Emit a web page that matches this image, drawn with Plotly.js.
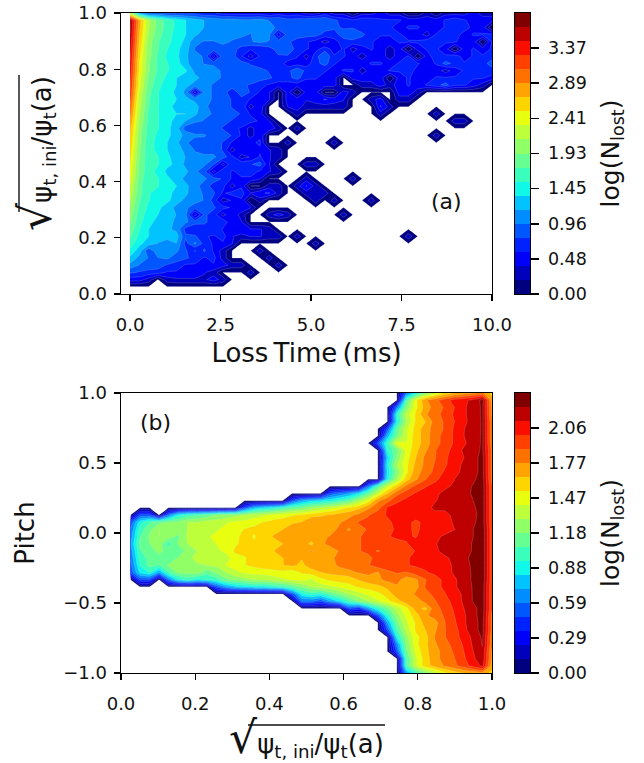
<!DOCTYPE html>
<html><head><meta charset="utf-8">
<script src="https://cdn.plot.ly/plotly-3.0.1.min.js"></script>
<style>html,body{margin:0;padding:0;background:#fff}</style></head>
<body><div id="chart" style="width:644px;height:763px"></div>
<script>
// ---- Panel (a): log(N_lost) on Loss Time (columns, 40) vs sqrt(psi) (rows i=39 at top down to i=1)
const zATop = [
[2.2,1.1,.8,.8,.7,.7,.7,.7,.6,.6,.5,.48,.48,.48,.48,.4,.48,.4,.48,.3,.3,.48,.3,.3,0,.3,.3,.48,.3,.3,0,0,.3,0,.3,.3,.3,.48,.3,.3],
[3.75,2.8,2.15,1.85,1.65,1.5,1.35,1.25,1.15,1.1,1.05,1.05,1.0,1.0,1.05,.95,.95,.85,.85,.9,.95,.95,.8,.7,.6,.7,.7,.6,.6,.6,.5,.5,.48,.48,.6,.7,.6,.5,.48,.48],
[3.7,2.75,2.15,1.85,1.65,1.5,1.35,1.25,1.15,1.05,1.05,1.05,1.0,1.0,1.05,1.05,.9,.85,.85,.85,.9,.85,.8,.75,.75,.7,.7,.7,.6,.5,.6,.6,.48,.48,.6,.7,.7,.5,.48,0],
[3.65,2.7,2.1,1.8,1.65,1.45,1.35,1.2,1.05,1.05,1.05,1.0,1.0,.95,1.15,1.0,.48,.85,.85,.85,.85,.7,.7,.85,.95,.8,.7,.6,.6,.6,.5,.48,.3,.6,.6,.7,.48,.6,.6,.6],
[3.6,2.65,2.05,1.75,1.6,1.45,1.3,1.0,.95,.95,1.0,.95,.9,.95,1.0,.95,.85,.8,.7,.6,.5,.3,.48,.7,.7,.7,.6,.48,.48,.6,.6,.6,.7,.7,.6,.6,.48,.48,0,.6],
[3.55,2.6,2.0,1.75,1.55,1.4,1.25,.95,.9,.9,.9,.85,.7,.6,.6,.7,.85,.9,.7,.6,.5,.7,.48,.6,.3,.48,.6,.48,.3,.48,0,.48,.6,.6,.48,0,.48,.6,.48,.6],
[3.5,2.55,2.0,1.7,1.5,1.4,1.2,1.0,.95,.3,.9,.85,.6,.3,.6,.7,.75,.75,.6,.3,.7,.95,.6,.6,.48,.3,.48,.48,.3,.48,.6,0,.48,.7,.6,.7,.48,.6,.6,.7],
[3.45,2.5,1.95,1.7,1.55,1.45,1.2,1.05,.95,.9,.9,.85,.85,.75,.65,.65,.7,.48,.48,.48,.7,.85,.6,.48,.48,.48,.6,.6,.48,.6,.6,.6,.48,.6,.85,.7,.6,.7,.7,.85],
[3.4,2.5,1.95,1.7,1.55,1.5,1.38,1.1,1.05,1.1,.9,.9,.95,.85,.85,.75,.7,.7,.95,.7,.7,.6,.48,.6,.6,.3,.48,.48,.6,.6,.7,.48,.48,.48,.3,.48,.6,.7,.6,.7],
[3.35,2.4,1.9,1.65,1.5,1.35,1.25,1.2,1.1,1.0,.95,.9,.9,.9,.85,.8,.7,.7,.85,.6,.6,.48,.48,0,.48,.48,.48,.48,0,.48,.6,.48,.48,.6,.6,.6,.6,.6,.6,.5],
[3.3,2.4,1.85,1.6,1.45,1.35,1.2,1.1,1.0,.95,.9,.9,.8,.75,.65,.55,.48,.48,.48,.48,.48,.48,.48,0,0,.3,.3,.48,.3,.48,.6,.48,.6,.7,.85,.6,.6,.48,.3,0],
[3.25,2.3,1.8,1.55,1.45,1.3,1.1,.3,1.0,.95,.9,.6,.9,.75,.55,.4,0,.48,0,.48,.48,0,0,.48,.3,0,0,0,0,.48,.48,.3],
[3.15,2.25,1.75,1.55,1.45,1.35,1.2,1.1,1.0,.95,.9,.75,.7,.55,.55,.4,0,.48,.48,.4,.48,.6,.48,.4,0,0,.3,.48,0,.3,.3],
[3.05,2.2,1.75,1.55,1.4,1.3,1.15,1.25,1.0,.9,.9,.75,.75,.3,.55,0,0,.4,.48,.3,.3,.3,.3,.3,0,0,0,.6,.3],
[2.95,2.15,1.7,1.55,1.4,1.35,1.35,1.2,1.0,.95,.9,.85,.75,.55,.48,0,0,0,.3,0,0,0,0,0,0,0,0,.3,0,0,0,0,0,.3],
[2.85,2.1,1.7,1.55,1.4,1.3,1.15,1.0,.95,.95,.85,.75,.75,.65,.55,.4,0,0,0,0,0,0,0,0,0,0,0,0,0,0,0,0,0,0,0,.3,.3],
[2.75,2.05,1.65,1.55,1.4,1.25,.85,.8,.8,.85,.75,.65,.55,.3,.55,.55,.3,0,.3],
[2.7,2.0,1.65,1.5,1.4,1.25,1.1,1.0,1.0,.8,.9,.75,.55,.3,.55,0,0,0,0,0,0,0,0,0,0,0,0,0,0,0,0,0,0,.3],
[2.65,2.0,1.6,1.5,1.35,1.2,1.0,.85,.8,.9,.75,.55,.55,.55,.6,0,0,.3,0,0,0,0,.3],
[2.6,1.95,1.6,1.5,1.35,1.25,1.1,.95,.9,.9,.75,.3,.55,.4,.55,.4,.3],
[2.55,1.95,1.6,1.55,1.4,1.25,1.15,1.0,1.0,1.0,.85,.65,.3,.4,.6,.4,.3],
[2.5,1.9,1.6,1.55,1.4,1.3,1.1,1.0,1.0,.8,.3,.75,.75,.75,.85,.4,0,0,0,.3,.3],
[2.45,1.9,1.6,1.5,1.3,1.25,1.2,1.0,.85,.3,.75,.55,.65,.65,.55,.4,.3],
[2.4,1.85,1.55,1.55,1.4,1.25,1.1,1.0,1.0,.85,.75,.55,.55,.55,.4,0,0,0,0,.3,0,0,0,0,.3],
[2.3,1.8,1.55,1.55,1.45,1.35,1.2,1.05,.85,.7,.65,.3,.55,0,0,.3,.3,0,.3,.6,.3],
[2.25,1.8,1.55,1.5,1.4,1.3,1.2,1.0,.95,.8,.55,.65,.65,.4,.55,.6,.3,0,0,.3,.3,.3],
[2.15,1.75,1.55,1.45,1.4,1.25,1.1,1.05,.95,.7,.3,.4,.55,0,.3,0,0,0,0,0,.3,0,.3,0,0,0,.3],
[2.1,1.7,1.5,1.4,1.25,1.1,1.0,.85,.8,.8,.65,.55,.55,.4],
[2.0,1.65,1.45,1.35,1.25,1.15,1.0,.3,.8,.7,.3,.55,.3,0,0,.3,.48,.3,0,0,0,0,0,.3],
[1.95,1.6,1.4,1.3,1.25,1.1,1.0,.85,.8,.7,.75,.4,.4],
[1.85,1.55,1.35,1.2,1.2,1.1,.7,.6,.7,.75,.55,.55,.55,.4,.4,.3],
[1.75,1.5,1.35,1.2,1.2,1.25,.8,.8,.6,.55,.65,.4,.3,.4,.4,.3,.3,0,.3,0,0,0,0,0,0,0,0,0,0,0,.3],
[1.65,1.4,1.25,1.15,1.1,1.15,.7,1.0,.7,.55,.55,.4,0,0,0,0,0,0,0,0,.3],
[1.5,1.25,.8,1.1,1.0,1.0,.8,.55,.8,.55,.3,0,0,0,.3],
[1.3,1.1,.95,.95,1.0,.85,.8,.7,.55,.65,.3,0,0,0,0,.3],
[1.1,.95,.9,.85,.75,.7,.55,.55,.55,.55,.48,.3,.3,0,0,0,.3],
[.8,.75,.7,.7,.55,.55,.55,.55,.4,.3,0,0,0,.3],
[.48,.48,.3,0,.3,.35,.35,.35,.35,.48,.3],
[0]
];
const ticksA = [0,0.48,0.96,1.45,1.93,2.41,2.89,3.37];
const ticksATxt = ['0.00','0.48','0.96','1.45','1.93','2.41','2.89','3.37'];
const maxA = 3.85;

// ---- Panel (b): log(N_lost) on sqrt(psi) vs Pitch. tail(first column, values); rows run from pitch -1 up to +1
const tail = (j, v) => Array(j - 1).fill(0).concat(v);
const zB = [
tail(30,[.7,1.0,1.2,1.35,1.5,1.6,1.65,1.7,1.75,1.6]),
tail(30,[1.05,1.4,1.6,1.7,1.78,1.85,1.95,2.05,2.15,1.7]),
tail(30,[1.05,1.4,1.6,1.72,1.82,1.88,1.98,2.1,2.2,1.75]),
tail(29,[.5,1.15,1.45,1.62,1.72,1.82,1.9,2.0,2.12,2.22,1.75]),
tail(29,[.65,1.2,1.5,1.62,1.75,1.85,1.92,2.02,2.14,2.25,1.8]),
tail(29,[.9,1.25,1.5,1.6,1.78,1.88,1.95,2.05,2.15,2.26,1.8]),
tail(28,[.5,1.05,1.35,1.55,1.65,1.75,1.88,1.95,2.08,2.2,2.28,1.85]),
tail(28,[.7,1.15,1.4,1.55,1.7,1.72,1.88,1.98,2.1,2.2,2.28,1.85]),
tail(27,[.5,.95,1.25,1.45,1.6,1.75,1.82,1.9,2.0,2.1,2.2,2.3,1.85]),
tail(24,[.5,.4,.7,.95,1.15,1.35,1.5,1.7,1.62,1.85,1.92,2.02,2.12,2.2,2.3,1.9]),
tail(19,[.6,.6,.5,.7,.85,1.05,1.2,1.3,1.4,1.5,1.6,1.72,1.68,1.82,1.88,1.95,2.05,2.14,2.25,2.3,1.9]),
tail(18,[.5,.9,1.0,.95,1.1,1.2,1.3,1.38,1.45,1.5,1.58,1.72,1.65,1.8,1.85,1.92,2.0,2.05,2.15,2.25,2.3,1.9]),
tail(10,[.5,.7,.8,.85,.9,.9,.95,1.0,1.1,1.2,1.3,1.36,1.4,1.45,1.5,1.55,1.58,1.62,1.68,1.75,1.75,1.72,1.9,1.98,2.02,2.1,2.18,2.25,2.3,1.9]),
[0,.5,.5,0,.6,.9,1.0,.9,.95,1.0,1.15,1.22,1.26,1.3,1.32,1.36,1.4,1.44,1.46,1.4,1.5,1.56,1.58,1.58,1.66,1.72,1.75,1.8,1.82,1.7,1.75,1.88,1.98,2.02,2.1,2.18,2.26,2.32,1.92],
[.5,.85,.95,.7,1.05,1.2,1.22,1.25,1.1,1.2,1.3,1.38,1.44,1.46,1.46,1.48,1.5,1.46,1.55,1.58,1.65,1.68,1.7,1.74,1.78,1.8,1.76,1.85,1.9,1.88,1.95,2.0,2.02,2.06,2.14,2.18,2.26,2.32,1.92],
[.55,.95,1.1,1.05,1.2,1.25,1.28,1.25,1.3,1.32,1.42,1.48,1.53,1.56,1.6,1.62,1.65,1.68,1.62,1.72,1.72,1.72,1.8,1.82,1.85,1.88,1.95,1.98,1.93,2.0,2.02,2.02,2.04,2.08,2.14,2.2,2.26,2.32,1.92],
[.6,1.0,1.1,1.15,1.05,1.2,1.2,1.42,1.3,1.3,1.35,1.5,1.52,1.62,1.6,1.6,1.65,1.68,1.66,1.68,1.72,1.75,1.8,1.82,1.8,1.85,1.95,1.92,1.96,2.0,2.02,2.04,2.06,2.1,2.15,2.2,2.28,2.32,1.92],
[.65,1.05,1.15,1.2,1.15,1.05,1.25,1.3,1.32,1.38,1.45,1.55,1.58,1.62,1.62,1.65,1.68,1.7,1.72,1.78,1.74,1.72,1.78,1.82,1.88,1.92,1.88,1.92,1.96,1.9,2.02,2.06,2.1,2.16,2.18,2.2,2.25,2.32,1.92],
[.7,1.1,1.18,1.25,1.0,1.2,1.3,1.3,1.35,1.42,1.45,1.52,1.56,1.55,1.58,1.6,1.65,1.68,1.72,1.62,1.75,1.8,1.84,1.85,1.88,1.92,1.95,1.98,1.98,2.0,2.04,2.08,2.12,2.14,2.18,2.2,2.25,2.32,1.92],
[.65,1.05,1.2,1.3,1.25,1.15,1.32,1.38,1.4,1.45,1.5,1.5,1.58,1.52,1.6,1.66,1.7,1.72,1.72,1.72,1.74,1.78,1.78,1.8,1.88,1.92,1.92,2.0,2.02,2.02,2.0,2.06,2.1,2.14,2.18,2.2,2.24,2.32,1.92],
[.6,1.0,1.15,1.3,1.25,1.25,1.3,1.32,1.38,1.4,1.46,1.5,1.54,1.56,1.58,1.62,1.65,1.78,1.7,1.7,1.72,1.72,1.8,1.76,1.85,1.9,1.92,1.98,2.02,2.04,1.98,2.05,2.06,2.08,2.12,2.16,2.24,2.32,1.92],
[.5,.9,1.05,1.15,1.18,1.2,1.3,1.3,1.35,1.36,1.4,1.44,1.46,1.5,1.54,1.58,1.6,1.62,1.66,1.78,1.7,1.72,1.76,1.82,1.9,1.92,1.92,1.98,2.04,2.04,1.98,2.04,2.08,2.06,2.14,2.16,2.22,2.3,1.9],
[0,.5,.5,0,.6,.9,1.0,1.05,1.1,1.18,1.22,1.26,1.3,1.36,1.4,1.44,1.48,1.52,1.55,1.6,1.64,1.66,1.7,1.74,1.8,1.88,1.95,2.02,2.06,2.02,2.06,2.08,2.1,2.1,2.14,2.18,2.2,2.3,1.9],
tail(13,[.5,.75,.85,.9,1.0,1.1,1.15,1.25,1.32,1.4,1.48,1.55,1.62,1.75,1.85,2.02,2.06,2.1,2.1,2.1,2.14,2.14,2.14,2.18,2.22,2.3,1.9]),
tail(18,[.5,.7,.8,.85,.9,1.0,1.1,1.3,1.48,1.75,1.85,1.98,2.04,2.06,2.08,2.12,2.14,2.16,2.2,2.24,2.3,1.9]),
tail(22,[.5,.6,.7,.85,1.1,1.4,1.65,1.85,1.95,2.02,2.04,2.1,2.15,2.18,2.22,2.25,2.3,1.9]),
tail(26,[.6,1.05,1.4,1.6,1.8,1.92,2.0,2.04,2.1,2.14,2.2,2.25,2.3,1.9]),
tail(28,[.9,1.3,1.6,1.75,1.88,1.98,2.05,2.12,2.18,2.22,2.3,1.85]),
tail(28,[.85,1.2,1.5,1.72,1.82,1.92,2.02,2.1,2.14,2.2,2.28,1.85]),
tail(28,[.9,1.3,1.5,1.68,1.8,1.9,1.98,2.08,2.14,2.2,2.28,1.85]),
tail(28,[.8,1.2,1.48,1.65,1.8,1.88,1.98,2.06,2.12,2.2,2.28,1.85]),
tail(28,[.95,1.15,1.45,1.62,1.75,1.88,1.95,2.05,2.14,2.2,2.26,1.85]),
tail(27,[.5,1.0,1.45,1.42,1.6,1.7,1.85,1.92,2.02,2.1,2.18,2.26,1.8]),
tail(28,[.75,1.15,1.4,1.6,1.7,1.85,1.92,2.02,2.12,2.18,2.26,1.8]),
tail(28,[.5,1.1,1.4,1.58,1.72,1.82,1.9,2.02,2.12,2.16,2.26,1.8]),
tail(29,[.9,1.3,1.55,1.65,1.82,1.9,2.0,2.1,2.16,2.26,1.8]),
tail(29,[.95,1.35,1.55,1.75,1.85,1.92,2.02,2.1,2.18,2.26,1.75]),
tail(29,[.6,1.2,1.5,1.7,1.82,1.9,2.0,2.1,2.18,2.26,1.75]),
tail(30,[1.05,1.5,1.75,1.85,1.95,2.05,2.1,2.15,2.28,1.7]),
tail(30,[.6,.9,1.2,1.4,1.55,1.65,1.7,1.75,1.8,1.6])
];
const ticksB = [0,0.295,0.59,0.885,1.18,1.475,1.77,2.065];
const ticksBTxt = ['0.00','0.29','0.59','0.88','1.18','1.47','1.77','2.06'];
const maxB = 2.36;

const nBands = 20;
function ramp(t, pts){ for(let i=1;i<pts.length;i++){ if(t<=pts[i][0]){ const a=pts[i-1],b=pts[i]; return a[1]+(b[1]-a[1])*(t-a[0])/(b[0]-a[0]); } } return pts[pts.length-1][1]; }
function jet(t){
  const r=ramp(t,[[0,0],[.35,0],[.66,1],[.89,1],[1,.5]]), g=ramp(t,[[0,0],[.125,0],[.375,1],[.64,1],[.91,0],[1,0]]), b=ramp(t,[[0,.5],[.11,1],[.34,1],[.65,0],[1,0]]);
  return 'rgb('+[r,g,b].map(v=>Math.round(v*255)).join(',')+')';
}
// contour scale: white under the first level, then one flat colour per band
const scale=[[0,'#ffffff'],[0.25/21,'#ffffff']];
for(let i=0;i<nBands;i++){ const c=jet(i/(nBands-1)); scale.push([(i+.25)/21+1e-6,c]); scale.push([(i+1.25)/21,c]); }
scale.push([1,jet(1)]);
// colourbar scale: one flat colour per band
const barScale=[];
for(let i=0;i<nBands;i++){ const c=jet(i/(nBands-1)); barScale.push([i/nBands,c]); barScale.push([(i+1)/nBands,c]); }

const W=644,H=763;
const px=v=>v/W, py=v=>1-v/H;
const FONT='DejaVu Sans, Verdana, sans-serif';
const INK='#111';
const eps=1e-4;
const rowsA=zATop.slice().reverse().map(r=>r.concat(Array(40-r.length).fill(0)));
const xA=rowsA[0].map((_,j)=>j*10/39);
const yA=rowsA.map((_,i)=>(i+1)/39);
const xB=zB[0].map((_,j)=>(j+1)/39);
const yB=zB.map((_,k)=>-1+2*k/39);

function trace(x,y,z,max,xa,ya){
  const size=max/nBands;
  return {type:'contour',x,y,z,xaxis:xa,yaxis:ya,autocontour:false,showscale:false,
    contours:{start:eps,end:eps+size*nBands,size,coloring:'fill',showlines:true},
    line:{color:'rgba(225,225,225,0.4)',width:0.5,smoothing:0},
    colorscale:scale,hoverinfo:'skip',connectgaps:false};
}
function barTrace(max,xa,ya){
  const bands=Array.from({length:nBands},(_,k)=>k);
  return {type:'heatmap',x:[0.5],y:bands.map(k=>(k+.5)*max/nBands),z:bands.map(k=>[k+.5]),xaxis:xa,yaxis:ya,
    zmin:0,zmax:nBands,colorscale:barScale,showscale:false,hoverinfo:'skip'};
}
const axis=(extra)=>Object.assign({showline:true,mirror:true,linecolor:'#000',linewidth:1.4,ticks:'outside',ticklen:6,tickwidth:1.2,tickcolor:'#000',showgrid:false,zeroline:false,tickfont:{family:FONT,size:18,color:INK}},extra);
const titleFont={family:FONT,size:26,color:INK};
const sqrtTitle='<span style="font-size:44px">√</span>ψ<sub>t, ini</sub>/ψ<sub>t</sub>(a)';
const barFrac=[px(515),px(530)];
const barY=(tv,tt,top,bot,max,anchor)=>({domain:[py(bot),py(top)],range:[0,max],side:'right',anchor,tickmode:'array',tickvals:tv,ticktext:tt,
  showline:true,mirror:true,linecolor:'#000',linewidth:1.4,ticks:'outside',ticklen:8,tickwidth:1.2,tickcolor:'#000',showgrid:false,zeroline:false,ticklabelstandoff:5,
  tickfont:{family:FONT,size:17.5,color:INK},title:{text:'log(N<sub>lost</sub>)',font:{family:FONT,size:25,color:INK},standoff:15}});
const barX=(anchor)=>({domain:barFrac,range:[0,1],anchor,showticklabels:false,ticks:'',showline:true,mirror:true,linecolor:'#000',linewidth:1.4,showgrid:false,zeroline:false});

const layout={width:W,height:H,margin:{l:0,r:0,t:0,b:0},paper_bgcolor:'#fff',plot_bgcolor:'#fff',showlegend:false,
  xaxis:axis({domain:[px(121),px(492)],range:[-0.25,10],tickvals:[0,2.5,5,7.5,10],ticktext:['0.0','2.5','5.0','7.5','10.0'],anchor:'y',ticklabelstandoff:8,title:{text:'Loss\u2009Time\u2009(ms)',font:titleFont,standoff:9}}),
  yaxis:axis({domain:[py(294),py(13)],range:[0,1],tickvals:[0,.2,.4,.6,.8,1],ticktext:['0.0','0.2','0.4','0.6','0.8','1.0'],anchor:'x',ticklabelstandoff:3,title:{text:sqrtTitle,font:titleFont,standoff:19}}),
  xaxis2:axis({domain:[px(121),px(492)],range:[0,1],tickvals:[0,.2,.4,.6,.8,1],ticktext:['0.0','0.2','0.4','0.6','0.8','1.0'],anchor:'y2',ticklabelstandoff:8,title:{text:sqrtTitle,font:titleFont,standoff:9}}),
  yaxis2:axis({domain:[py(673),py(393)],range:[-1,1],tickvals:[-1,-.5,0,.5,1],ticktext:['\u22121.0','\u22120.5','0.0','0.5','1.0'],anchor:'x2',ticklabelstandoff:3,title:{text:'Pitch',font:titleFont,standoff:21}}),
  xaxis3:barX('y3'), yaxis3:barY(ticksA,ticksATxt,13,294,maxA,'x3'),
  xaxis4:barX('y4'), yaxis4:barY(ticksB,ticksBTxt,393,673,maxB,'x4'),
  annotations:[
    {xref:'x',yref:'y',x:8.73,y:0.33,text:'(a)',showarrow:false,font:{family:FONT,size:22,color:INK}},
    {xref:'x2',yref:'y2',x:0.094,y:0.786,text:'(b)',showarrow:false,font:{family:FONT,size:22,color:INK}}
  ],
  shapes:[
    {type:'line',xref:'paper',yref:'paper',x0:px(19),x1:px(19),y0:py(75),y1:py(212),line:{color:INK,width:1.4}},
    {type:'line',xref:'paper',yref:'paper',x0:px(248),x1:px(385),y0:py(725),y1:py(725),line:{color:INK,width:1.4}}
  ]};
Plotly.newPlot('chart',[
  trace(xA,yA,rowsA,maxA,'x','y'),
  trace(xB,yB,zB,maxB,'x2','y2'),
  barTrace(maxA,'x3','y3'),
  barTrace(maxB,'x4','y4')
],layout,{displayModeBar:false,staticPlot:true});
</script></body></html>
